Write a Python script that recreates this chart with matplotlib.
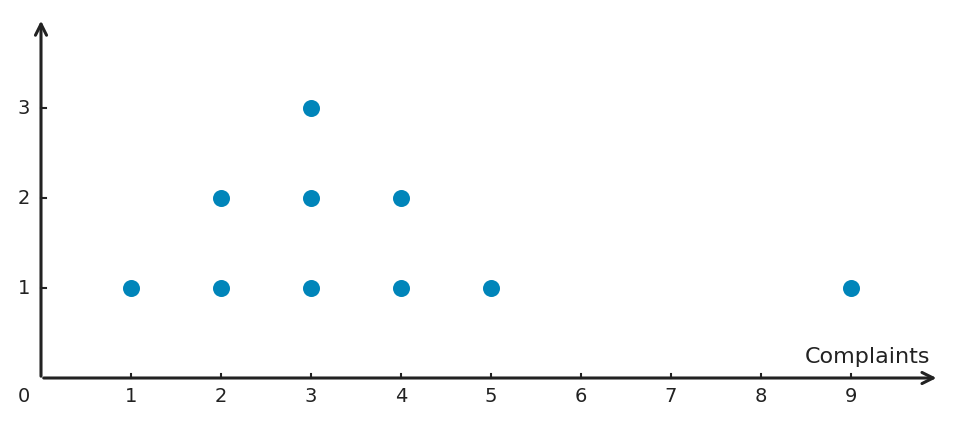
import matplotlib
matplotlib.use('Agg')
import matplotlib.pyplot as plt

# complaints per value, stacked as a dot plot
complaints = [1, 2, 2, 3, 3, 3, 4, 4, 5, 9]
stack = [1, 1, 2, 1, 2, 3, 1, 2, 1, 1]
xticks = [1, 2, 3, 4, 5, 6, 7, 8, 9]
yticks = [1, 2, 3]

ink = '#222222'
dot = '#0085BA'

fig = plt.figure(figsize=(9.59, 4.26), dpi=100)
ax = fig.add_axes([0, 0, 1, 1])
ax.set_xlim(-41 / 90, (959 - 41) / 90)
ax.set_ylim(-48 / 90, (426 - 48) / 90)
ax.axis('off')

# axes with arrow heads
ax.annotate('', xy=(9.95, 0), xytext=(0.03, 0),
            arrowprops=dict(arrowstyle='->', color=ink, lw=2.2,
                            mutation_scale=20, shrinkA=0, shrinkB=0))
ax.annotate('', xy=(0, 3.97), xytext=(0, 0.02),
            arrowprops=dict(arrowstyle='->', color=ink, lw=2.2,
                            mutation_scale=20, shrinkA=0, shrinkB=0))

for t in xticks:
    ax.plot([t, t], [0, 0.05], color=ink, lw=1.5)
    ax.text(t, -0.21, str(t), ha='center', va='center', fontsize=14, color=ink)
for t in yticks:
    ax.plot([0, 0.05], [t, t], color=ink, lw=1.5)
    ax.text(-0.19, t, str(t), ha='center', va='center', fontsize=14, color=ink)
ax.text(-0.19, -0.21, '0', ha='center', va='center', fontsize=14, color=ink)

ax.text(9.88, 0.23, 'Complaints', ha='right', va='center', fontsize=16, color=ink)

ax.scatter(complaints, stack, s=150, color=dot, zorder=3, linewidths=0)

fig.savefig('out.png', dpi=100)
